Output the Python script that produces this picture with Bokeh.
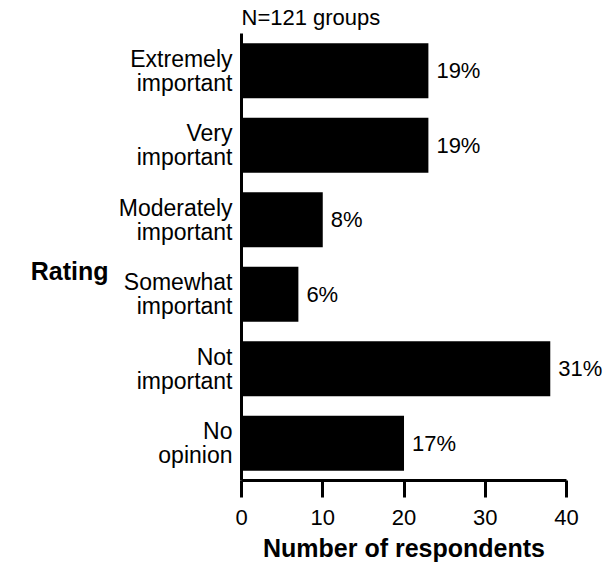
from bokeh.plotting import figure
from bokeh.models import (ColumnDataSource, Range1d, FactorRange, LabelSet, FixedTicker,
                          LinearAxis)
from bokeh.core.properties import value
from bokeh.embed import file_html
from bokeh.resources import INLINE

categories = ["Extremely\nimportant", "Very\nimportant", "Moderately\nimportant",
              "Somewhat\nimportant", "Not\nimportant", "No\nopinion"]
counts = [23, 23, 10, 7, 38, 20]
percents = ["19%", "19%", "8%", "6%", "31%", "17%"]
x_ticks = [0, 10, 20, 30, 40]
title_text = "N=121 groups"
x_title = "Number of respondents"
y_title = "Rating"

FONT = "Liberation Sans"
REG = "22px"
CAT = "23px"
BOLD = "25px"

src = ColumnDataSource(dict(cat=categories, count=counts, pct=percents))

p = figure(
    width=603, height=567,
    y_range=FactorRange(factors=list(reversed(categories)), range_padding=0),
    x_range=Range1d(0, 44.55),
    output_backend="svg", toolbar_location=None,
    min_border_left=241, min_border_right=0, min_border_top=33, min_border_bottom=87,
)

p.hbar(y="cat", right="count", height=0.74, left=0, source=src,
       fill_color="black", line_color=None)

labels = LabelSet(x="count", y="cat", text="pct", source=src, x_offset=8,
                  text_baseline="middle", text_align="left",
                  text_font=value(FONT), text_font_size=value(REG), text_color="black")
p.add_layout(labels)

p.title.text = title_text
p.title.text_font = FONT
p.title.text_font_size = REG
p.title.text_font_style = "normal"
p.title.text_color = "black"
p.title.align = "left"
p.title.vertical_align = "top"
p.title.offset = 0
p.title.standoff = 4

p.grid.visible = False
p.outline_line_color = None
p.background_fill_color = "white"
p.border_fill_color = "white"

xa = p.xaxis[0]
xa.ticker = FixedTicker(ticks=x_ticks)
xa.bounds = (0, 40)
xa.axis_line_width = 3
xa.axis_line_color = "black"
xa.major_tick_line_width = 3
xa.major_tick_line_color = "black"
xa.major_tick_in = 0
xa.major_tick_out = 17
xa.minor_tick_line_color = None
xa.major_label_text_font = FONT
xa.major_label_text_font_size = REG
xa.major_label_text_color = "black"
xa.major_label_standoff = 12

# x-axis title, centred under the 0-40 span
x_mid = (x_ticks[0] + x_ticks[-1]) // 2
xt = LinearAxis(ticker=FixedTicker(ticks=[x_mid]),
                major_label_overrides={x_mid: x_title},
                axis_line_color=None, major_tick_line_color=None,
                minor_tick_line_color=None, major_tick_in=0, major_tick_out=0,
                major_label_standoff=6,
                major_label_text_font=FONT, major_label_text_font_size=BOLD,
                major_label_text_font_style="bold", major_label_text_color="black")
p.add_layout(xt, "below")

ya = p.yaxis[0]
ya.axis_line_width = 3
ya.axis_line_color = "black"
ya.major_tick_in = 0
ya.major_tick_out = 0
ya.major_tick_line_color = None
ya.minor_tick_line_color = None
ya.major_label_text_font = FONT
ya.major_label_text_font_size = CAT
ya.major_label_text_color = "black"
ya.major_label_text_line_height = 0.92
ya.major_label_standoff = 9

# y-axis title, horizontal, left of the category labels
# (position given on the categorical range's synthetic scale, 0 = bottom, 6 = top)
y_pos = 2.8125
yt = LinearAxis(ticker=FixedTicker(ticks=[y_pos]),
                major_label_overrides={y_pos: y_title},
                axis_line_color=None, major_tick_line_color=None,
                minor_tick_line_color=None, major_tick_in=0, major_tick_out=0,
                major_label_standoff=7,
                major_label_text_font=FONT, major_label_text_font_size=BOLD,
                major_label_text_font_style="bold", major_label_text_color="black")
p.add_layout(yt, "left")

open("out.html", "w").write(file_html(p, INLINE))
